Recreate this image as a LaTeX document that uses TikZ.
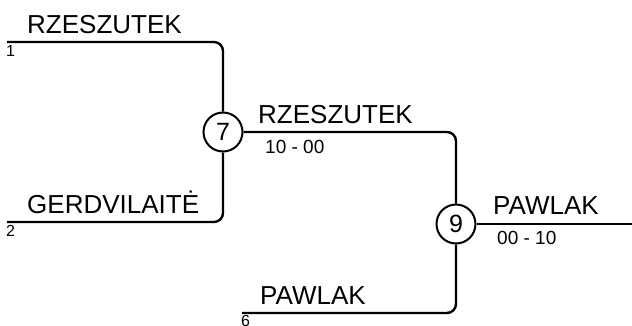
\documentclass[tikz,border=0pt]{standalone}
\usepackage{fontspec}
\setmainfont{Liberation Sans}
\begin{document}
\begin{tikzpicture}[x=1pt,y=-1pt,
  wire/.style={line width=2.4pt,rounded corners=9pt},
  game/.style={circle,draw,line width=2pt,minimum size=39pt,inner sep=0pt,font=\fontsize{25}{25}\selectfont},
  player/.style={anchor=base west,inner sep=0pt,font=\fontsize{26}{26}\selectfont},
  seed/.style={anchor=base west,inner sep=0pt,font=\fontsize{16}{16}\selectfont},
  score/.style={anchor=base west,inner sep=0pt,font=\fontsize{19}{19}\selectfont}]
\useasboundingbox (0,0) rectangle (632,325);
\node[game] (g7) at (223,132) {7};
\node[game] (g9) at (456,224) {9};
\coordinate (s1) at (7,42);
\coordinate (s2) at (7,222);
\coordinate (s6) at (242,313);
\coordinate (c1) at (223,42);
\coordinate (c2) at (223,222);
\coordinate (c3) at (456,132);
\coordinate (c6) at (456,313);
\coordinate (e9) at (632,224);
\draw[wire] (s1) -- (c1) -- (g7.north);
\draw[wire] (s2) -- (c2) -- (g7.south);
\draw[wire] (g7.east) -- (c3) -- (g9.north);
\draw[wire] (s6) -- (c6) -- (g9.south);
\draw[wire] (g9.east) -- (e9);
\node[player] (n1) at (27,33) {RZESZUTEK};
\node[seed] (d1) at (6,56) {1};
\node[player] (n2) at (27,213) {GERDVILAITĖ};
\node[seed] (d2) at (6,236) {2};
\node[player] (n7) at (258,123) {RZESZUTEK};
\node[score] (r7) at (265,153) {10 - 00};
\node[player] (n6) at (260,304) {PAWLAK};
\node[seed] (d6) at (241,326) {6};
\node[player] (n9) at (493,214) {PAWLAK};
\node[score] (r9) at (497,244) {00 - 10};
\end{tikzpicture}
\end{document}
